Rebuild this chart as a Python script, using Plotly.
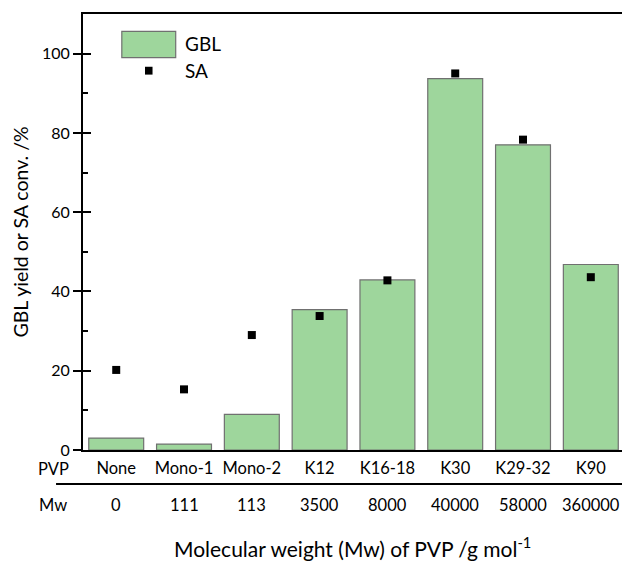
import plotly.graph_objects as go

categories = ["None", "Mono-1", "Mono-2", "K12", "K16-18", "K30", "K29-32", "K90"]
mw_labels = ["0", "111", "113", "3500", "8000", "40000", "58000", "360000"]
gbl_yield = [3.0, 1.5, 9.0, 35.4, 42.9, 93.7, 77.0, 46.8]
sa_conv = [20.2, 15.3, 29.0, 33.8, 42.8, 95.0, 78.3, 43.6]

FONT = "Lato"
idx = list(range(len(categories)))

fig = go.Figure()
fig.add_trace(go.Bar(
    x=idx, y=gbl_yield, name="GBL",
    marker=dict(color="#9ed69c", line=dict(color="#707070", width=1.2)),
    showlegend=False,
))
fig.add_trace(go.Scatter(
    x=idx, y=sa_conv, name="SA", mode="markers",
    marker=dict(symbol="square", size=8, color="black"),
    showlegend=False,
))
# invisible trace to carry the inward major ticks
fig.add_trace(go.Scatter(x=[0], y=[0], yaxis="y2", mode="markers",
                         marker=dict(opacity=0), showlegend=False, hoverinfo="skip"))

annotations = []
for i, lab in enumerate(mw_labels):
    annotations.append(dict(x=i, y=-0.125, xref="x", yref="paper", text=lab,
                            showarrow=False, font=dict(size=16.5, family=FONT, color="black"),
                            xanchor="center", yanchor="middle"))
annotations.append(dict(x=-0.055, y=-0.043, xref="paper", yref="paper", text="PVP",
                        showarrow=False, font=dict(size=16.5, family=FONT, color="black"),
                        xanchor="center", yanchor="middle"))
annotations.append(dict(x=-0.055, y=-0.125, xref="paper", yref="paper", text="Mw",
                        showarrow=False, font=dict(size=16.5, family=FONT, color="black"),
                        xanchor="center", yanchor="middle"))
annotations.append(dict(x=0.5, y=-0.222, xref="paper", yref="paper",
                        text="Molecular weight (Mw) of PVP /g mol<sup>-1</sup>",
                        showarrow=False, font=dict(size=21, family=FONT, color="black"),
                        xanchor="center", yanchor="middle"))
# legend
annotations.append(dict(x=0.185, y=0.933, xref="paper", yref="paper", text="GBL",
                        showarrow=False, font=dict(size=19, family=FONT, color="black"),
                        xanchor="left", yanchor="middle"))
annotations.append(dict(x=0.185, y=0.87, xref="paper", yref="paper", text="SA",
                        showarrow=False, font=dict(size=19, family=FONT, color="black"),
                        xanchor="left", yanchor="middle"))

shapes = [
    dict(type="line", xref="paper", yref="paper", x0=-0.05, x1=1.0, y0=-0.078, y1=-0.078,
         line=dict(color="black", width=2)),
    dict(type="rect", xref="paper", yref="paper", x0=0.072, x1=0.172, y0=0.9, y1=0.96,
         fillcolor="#9ed69c", line=dict(color="#707070", width=1.2)),
    dict(type="rect", xref="paper", yref="paper", x0=0.115, x1=0.129, y0=0.861, y1=0.879,
         fillcolor="black", line=dict(width=0)),
]

fig.update_layout(
    width=622, height=562,
    margin=dict(l=83, r=0, t=14, b=112),
    paper_bgcolor="white", plot_bgcolor="white",
    bargap=0.19,
    font=dict(family=FONT, size=16.5, color="black"),
    xaxis=dict(
        range=[-0.49, 7.46], tickvals=idx, ticktext=categories,
        showline=True, linecolor="black", linewidth=2, mirror=True,
        ticks="", showgrid=False, zeroline=False,
        tickfont=dict(size=16.5, family=FONT), ticklabelstandoff=2,
    ),
    yaxis=dict(
        range=[0, 110], tickvals=[0, 20, 40, 60, 80, 100],
        showline=True, linecolor="black", linewidth=2,
        ticks="outside", ticklen=8, tickwidth=2, tickcolor="black",
        minor=dict(tickvals=[10, 30, 50, 70, 90], ticks="inside", ticklen=5, tickwidth=1.5, tickcolor="black"),
        showgrid=False, zeroline=False,
        tickfont=dict(size=16, family=FONT),
        title=dict(text="GBL yield or SA conv. /%", font=dict(size=19.5, family=FONT), standoff=8),
    ),
    yaxis2=dict(
        overlaying="y", side="left", range=[0, 110], tickvals=[0, 20, 40, 60, 80, 100],
        ticks="inside", ticklen=8, tickwidth=2, tickcolor="black",
        showticklabels=False, showline=False, showgrid=False, zeroline=False,
    ),
    annotations=annotations,
    shapes=shapes,
)

fig.write_html("out.html")
